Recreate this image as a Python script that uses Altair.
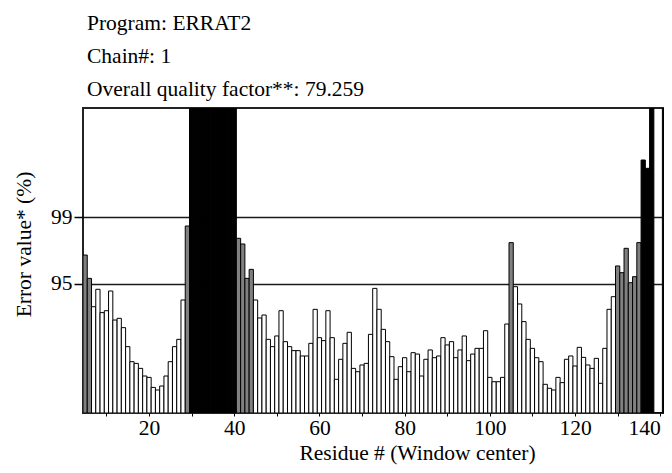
import altair as alt
import pandas as pd

# ERRAT2 error values per residue (window center)
residues = list(range(5, 143))
error_values = [
    13.88, 11.83, 9.34, 10.87, 8.82, 8.99, 10.72, 8.17, 8.32, 7.50,        # 5-14
    5.83, 4.51, 4.36, 3.92, 3.25, 3.13, 2.25, 2.02, 2.37, 3.25,            # 15-24
    4.51, 5.83, 6.47, 9.93, 16.43,                                         # 25-29
    26.8, 26.8, 26.8, 26.8, 26.8, 26.8, 26.8, 26.8, 26.8, 26.8, 26.8,      # 30-40
    15.35, 14.85, 11.83, 12.62, 9.93, 8.35, 8.61, 6.47, 5.83, 6.77,        # 41-50
    8.99, 6.27, 5.83, 5.48, 5.48, 5.01, 5.01, 6.12, 9.11, 6.62,            # 51-60
    6.36, 8.99, 6.62, 2.96, 4.72, 6.12, 7.09, 3.92, 3.63, 4.22,            # 61-70
    4.36, 6.91, 10.95, 9.11, 7.35, 6.27, 4.95, 2.96, 4.07, 4.86,           # 71-80
    3.63, 5.30, 5.18, 3.25, 4.72, 5.54, 4.86, 5.01, 6.62, 5.98,            # 81-90
    6.27, 4.86, 5.54, 6.77, 4.60, 5.18, 5.68, 5.68, 7.23, 3.13,            # 91-100
    2.75, 2.75, 3.13, 7.82, 14.97, 11.10, 9.58, 8.03, 6.47, 5.68,          # 101-110
    4.86, 4.51, 2.52, 2.17, 2.02, 3.13, 2.67, 4.72, 5.01, 4.13,            # 111-120
    5.77, 4.89, 4.22, 3.92, 4.80, 2.61, 5.68, 9.11, 10.22, 12.92,          # 121-130
    12.33, 14.47, 11.45, 11.98, 14.97, 22.23, 21.50, 26.8, 0.0, 0.0,       # 131-140
    26.8, 26.8,                                                            # 141-142
]

# Confidence thresholds (error value) and their labels
threshold_values = [11.36, 17.19]
threshold_labels = ["95", "99"]
x_tick_values = [10, 20, 30, 40, 50, 60, 70, 80, 90, 100, 110, 120, 130, 140]
x_domain = [4.5, 140.88]   # the reference image is cropped just after residue 140

header_lines = [
    "Program: ERRAT2",
    "Chain#: 1",
    "Overall quality factor**: 79.259",
]

FONT = "Liberation Serif"
FS = 21.5

df = pd.DataFrame({"residue": residues, "error": error_values})

bars = (
    alt.Chart(df)
    .transform_calculate(
        x0="datum.residue - 0.5",
        x1="datum.residue + 0.5",
        level="datum.error > 17.19 ? 'above99' : (datum.error > 11.36 ? 'above95' : 'below95')",
    )
    .mark_rect(stroke="black", strokeWidth=1, clip=True)
    .encode(
        x=alt.X(
            "x0:Q",
            scale=alt.Scale(domain=x_domain, nice=False, zero=False),
            axis=alt.Axis(
                values=x_tick_values,
                labelExpr="datum.value % 20 == 0 ? datum.label : ''",
                grid=False,
                domain=False,
                tickSize=3,
                tickColor="black",
                labelFont=FONT,
                labelFontSize=FS,
                labelColor="black",
                labelPadding=1,
                labelFlush=6,
                labelOverlap=False,
                title="Residue # (Window center)",
                titleFont=FONT,
                titleFontSize=FS,
                titleFontWeight="normal",
                titleColor="black",
                titleX=334,
                titleY=46,
                titleAlign="center",
                titleBaseline="alphabetic",
            ),
        ),
        x2="x1:Q",
        y=alt.Y(
            "error:Q",
            scale=alt.Scale(domain=[0, 26.8], nice=False, zero=True),
            axis=alt.Axis(
                values=threshold_values,
                labelExpr="datum.value < 15 ? '%s' : '%s'" % (threshold_labels[0], threshold_labels[1]),
                grid=True,
                gridColor="#1a1a1a",
                gridWidth=1.5,
                domain=False,
                tickSize=9,
                tickWidth=1.5,
                tickColor="black",
                labelFont=FONT,
                labelFontSize=FS,
                labelColor="black",
                labelPadding=2,
                title="Error value* (%)",
                titleFont=FONT,
                titleFontSize=FS,
                titleFontWeight="normal",
                titleColor="black",
                titleAngle=270,
                titleX=-53,
                titleY=136,
                titleAlign="center",
                titleBaseline="alphabetic",
            ),
        ),
        y2=alt.datum(0),
        fill=alt.Fill(
            "level:N",
            scale=alt.Scale(domain=["below95", "above95", "above99"], range=["white", "#808080", "black"]),
            legend=None,
        ),
    )
)

layers = [bars]
for i, line in enumerate(header_lines):
    layers.append(
        alt.Chart(pd.DataFrame({"t": [line]}))
        .mark_text(align="left", baseline="alphabetic", font=FONT, fontSize=FS, color="black")
        .encode(text="t:N", x=alt.value(4), y=alt.value(-78 + 33 * i))
    )

chart = (
    alt.layer(*layers)
    .properties(
        width=581,
        height=305,
        autosize=alt.AutoSizeParams(type="none"),
        padding={"left": 75, "top": 100, "right": 0, "bottom": 52},
        background="white",
    )
    .configure_view(stroke="#222", strokeWidth=2)
)

chart.save("out.html", embed_options={"renderer": "svg", "actions": False})
